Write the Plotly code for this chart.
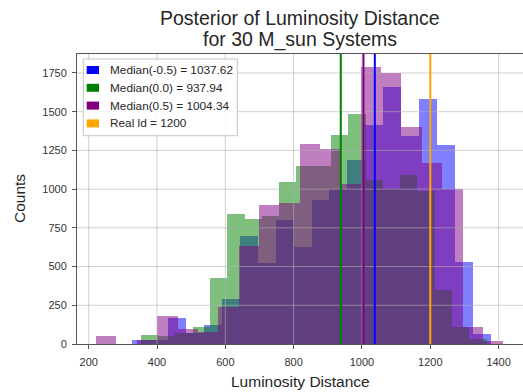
import numpy as np
import plotly.graph_objects as go

# Histogram bins: 20 equal-width bins spanning each posterior's sample range
bins_neg = (326.8, 1377.8)    # Median(-0.5)
bins_zero = (352.5, 1364.8)   # Median(0.0)
bins_pos = (221.5, 1413.7)    # Median(0.5)

counts_neg = [28, 25, 168, 70, 125, 291, 695, 525, 803, 625,
              933, 1000, 1190, 1417, 1661, 1342, 1579, 1284, 530, 65]
counts_zero = [60, 50, 70, 107, 427, 840, 810, 825, 1047, 1150,
               1150, 1350, 1487, 1060, 1000, 1094, 990, 351, 107, 35]
counts_pos = [54, 0, 25, 183, 100, 80, 239, 631, 900, 911,
              1290, 1262, 1030, 1790, 1752, 1400, 1170, 1000, 107, 17]

median_neg = 1037.62
median_zero = 937.94
median_pos = 1004.34
real_ld = 1200

x_ticks = [200, 400, 600, 800, 1000, 1200, 1400]
y_ticks = [0, 250, 500, 750, 1000, 1250, 1500, 1750]

# Canvas geometry (pixels)
W, H = 523, 392
ML, MR, MT, MB = 77, 0, 54, 48
X_RANGE = [165.7, 1471.4]
Y_RANGE = [0, 1872.6]
FONT = "Liberation Sans, Arial, Helvetica, sans-serif"


def fx(p):
    """pixel column -> paper x"""
    return (p - ML) / (W - ML - MR)


def fy(p):
    """pixel row -> paper y"""
    return (H - MB - p) / (H - MT - MB)


series = [
    ("Median(-0.5) = %.2f" % median_neg, counts_neg, bins_neg, "#0000ff", median_neg),
    ("Median(0.0) = %.2f" % median_zero, counts_zero, bins_zero, "#008000", median_zero),
    ("Median(0.5) = %.2f" % median_pos, counts_pos, bins_pos, "#800080", median_pos),
]

fig = go.Figure()
for name, counts, (lo, hi), color, _ in series:
    edges = np.linspace(lo, hi, len(counts) + 1)
    centers = (edges[:-1] + edges[1:]) / 2
    fig.add_trace(go.Bar(
        x=centers, y=counts, width=np.diff(edges),
        marker=dict(color=color, line=dict(width=0)),
        opacity=0.5, name=name, showlegend=False, hoverinfo="skip",
    ))

shapes = []
# grid drawn over the bars
for v in x_ticks:
    shapes.append(dict(type="line", xref="x", yref="paper", x0=v, x1=v, y0=0, y1=1,
                       line=dict(color="rgba(176,176,176,0.6)", width=1), layer="above"))
for v in y_ticks[1:]:
    shapes.append(dict(type="line", xref="paper", yref="y", x0=0, x1=1, y0=v, y1=v,
                       line=dict(color="rgba(176,176,176,0.6)", width=1), layer="above"))

# median / true-value markers
line_specs = [(median_neg, "#0000ff"), (median_zero, "#008000"),
              (median_pos, "#800080"), (real_ld, "#ffa500")]
for v, c in line_specs:
    shapes.append(dict(type="line", xref="x", yref="paper", x0=v, x1=v, y0=0, y1=1,
                       line=dict(color=c, width=2), layer="above"))

# legend box
shapes.append(dict(type="rect", xref="paper", yref="paper",
                   x0=fx(83.3), x1=fx(237.3), y0=fy(135.7), y1=fy(59),
                   fillcolor="rgba(255,255,255,0.85)", line=dict(color="#c4c4c4", width=1),
                   layer="above"))

legend_items = [(s[0], s[3]) for s in series] + [("Real ld = %d" % real_ld, "#ffa500")]
annotations = []
row_y = [70, 87.8, 105.6, 123.4]
for (label, color), ry in zip(legend_items, row_y):
    shapes.append(dict(type="rect", xref="paper", yref="paper",
                       x0=fx(86.7), x1=fx(99), y0=fy(ry + 4), y1=fy(ry - 4),
                       fillcolor=color, line=dict(width=0), layer="above"))
    annotations.append(dict(text=label, xref="paper", yref="paper", x=fx(107.5), y=fy(ry),
                            xanchor="left", yanchor="middle", showarrow=False,
                            font=dict(family=FONT, size=11.8, color="#262626")))

# title (two lines) and axis titles
annotations.append(dict(text="Posterior of Luminosity Distance", xref="paper", yref="paper",
                        x=fx(300), y=fy(17.5), xanchor="center", yanchor="middle",
                        showarrow=False, font=dict(family=FONT, size=19.5, color="#262626")))
annotations.append(dict(text="for 30 M_sun Systems", xref="paper", yref="paper",
                        x=fx(300), y=fy(39.5), xanchor="center", yanchor="middle",
                        showarrow=False, font=dict(family=FONT, size=19.5, color="#262626")))
annotations.append(dict(text="Luminosity Distance", xref="paper", yref="paper",
                        x=fx(300), y=fy(381), xanchor="center", yanchor="middle",
                        showarrow=False, font=dict(family=FONT, size=15.5, color="#262626")))
annotations.append(dict(text="Counts", xref="paper", yref="paper",
                        x=fx(19), y=fy(199), xanchor="center", yanchor="middle", textangle=-90,
                        showarrow=False, font=dict(family=FONT, size=15.5, color="#262626")))

fig.update_layout(
    width=W, height=H,
    margin=dict(l=ML, r=MR, t=MT, b=MB, pad=0),
    paper_bgcolor="white", plot_bgcolor="white",
    barmode="overlay", bargap=0,
    shapes=shapes, annotations=annotations,
    showlegend=False,
    xaxis=dict(range=X_RANGE, tickvals=x_ticks, ticktext=[str(v) for v in x_ticks],
               showgrid=False, zeroline=False, showline=True, mirror=True,
               linecolor="#555555", linewidth=1, ticks="outside", ticklen=4,
               ticklabelstandoff=4,
               tickcolor="#555555", tickfont=dict(family=FONT, size=11, color="#333333")),
    yaxis=dict(range=Y_RANGE, tickvals=y_ticks, ticktext=[str(v) for v in y_ticks],
               showgrid=False, zeroline=False, showline=True, mirror=False,
               linecolor="#555555", linewidth=1, ticks="outside", ticklen=4,
               ticklabelstandoff=3,
               tickcolor="#555555", tickfont=dict(family=FONT, size=11, color="#333333")),
)

fig.write_html("out.html")
